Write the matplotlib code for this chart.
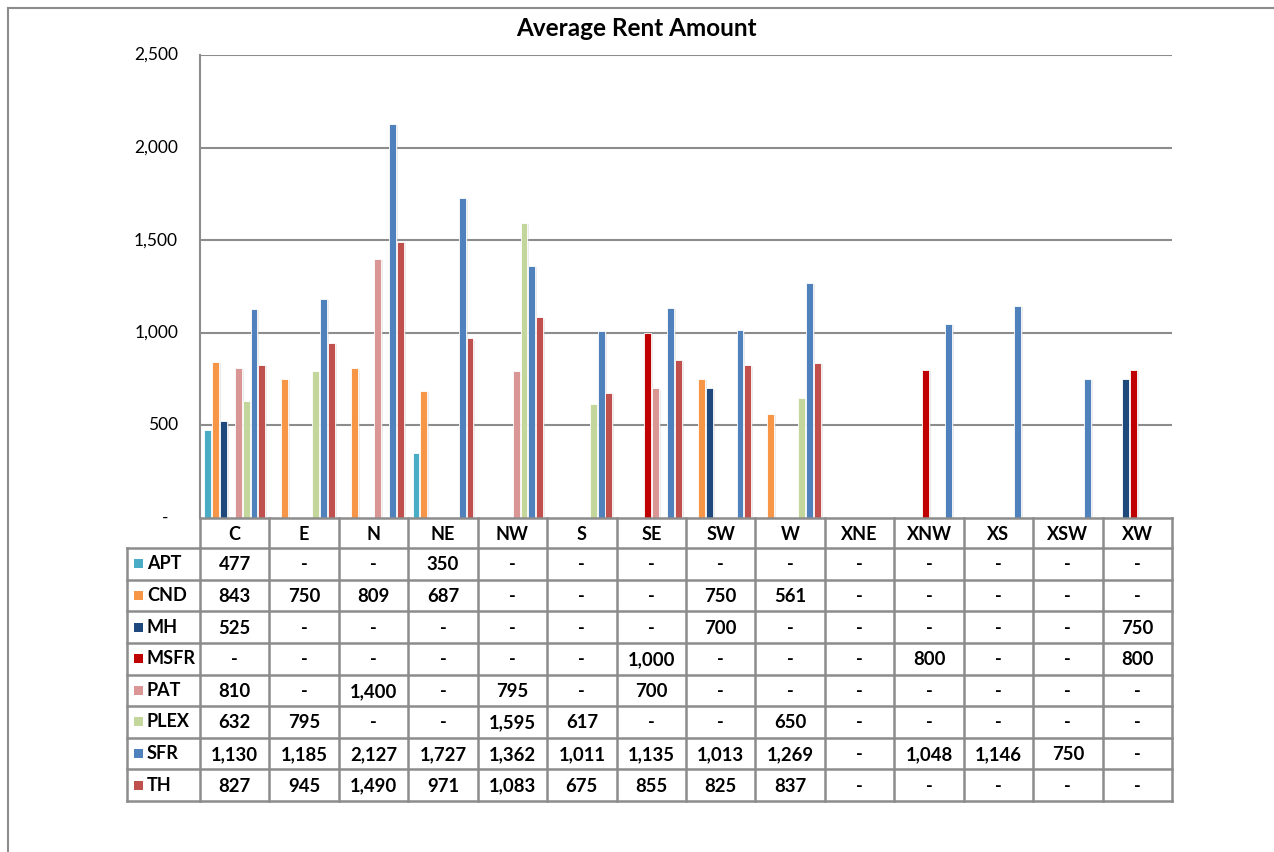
import matplotlib
matplotlib.use("Agg")
import matplotlib.pyplot as plt
import matplotlib.patheffects as pe
import numpy as np

plt.rcParams['font.family'] = ['Lato', 'DejaVu Sans']

categories = ["C", "E", "N", "NE", "NW", "S", "SE", "SW", "W", "XNE", "XNW", "XS", "XSW", "XW"]
series_names = ["APT", "CND", "MH", "MSFR", "PAT", "PLEX", "SFR", "TH"]
N = None
apt = [477, N, N, 350, N, N, N, N, N, N, N, N, N, N]
cnd = [843, 750, 809, 687, N, N, N, 750, 561, N, N, N, N, N]
mh = [525, N, N, N, N, N, N, 700, N, N, N, N, N, 750]
msfr = [N, N, N, N, N, N, 1000, N, N, N, 800, N, N, 800]
pat = [810, N, 1400, N, 795, N, 700, N, N, N, N, N, N, N]
plex = [632, 795, N, N, 1595, 617, N, N, 650, N, N, N, N, N]
sfr = [1130, 1185, 2127, 1727, 1362, 1011, 1135, 1013, 1269, N, 1048, 1146, 750, N]
th = [827, 945, 1490, 971, 1083, 675, 855, 825, 837, N, N, N, N, N]
series = [apt, cnd, mh, msfr, pat, plex, sfr, th]
colors = ["#4BACC6", "#F79646", "#1F497D", "#C00000", "#D99694", "#C3D69B", "#4F81BD", "#C0504D"]
yticks = [0, 500, 1000, 1500, 2000, 2500]
title = "Average Rent Amount"

W, H = 1274, 852
fig = plt.figure(figsize=(W / 100, H / 100), dpi=100)
GRID = "#8C8C8C"

# outer frame lines
fig.add_artist(plt.Line2D([8 / W, 8 / W], [0, 1 - 8 / H], color="#8C8C8C", lw=1.5))
fig.add_artist(plt.Line2D([8 / W, 1], [1 - 8 / H, 1 - 8 / H], color="#8C8C8C", lw=1.5))

# main plot axes
L, R, T, B = 200, 1172, 55, 518
ax = fig.add_axes([L / W, 1 - B / H, (R - L) / W, (B - T) / H])
ax.set_xlim(-0.5, len(categories) - 0.5)
ax.set_ylim(0, 2500)
for s in ["top", "right", "bottom"]:
    ax.spines[s].set_visible(False)
ax.spines["left"].set_color(GRID)
ax.spines["left"].set_linewidth(1.5)
ax.set_xticks([])
ax.set_yticks(yticks)
ax.set_yticklabels([])
ax.tick_params(axis="y", length=0)
for v in yticks[1:]:
    ax.axhline(v, color=GRID, lw=1.5, zorder=0)
for v in yticks:
    lab = "-" if v == 0 else f"{v:,}"
    xoff = -32 if v == 0 else -22
    ax.annotate(lab, xy=(0, v), xycoords=("axes fraction", "data"), xytext=(xoff, 0),
                textcoords="offset pixels", ha="right", va="center", fontsize=12.5)

x = np.arange(len(categories))
slot = 0.111
for j, (vals, c) in enumerate(zip(series, colors)):
    xs = [x[i] + (j - 3.5) * slot for i in range(len(vals)) if vals[i] is not None]
    hs = [vals[i] for i in range(len(vals)) if vals[i] is not None]
    ax.bar(xs, hs, width=0.098, color=c, edgecolor="white", linewidth=0.6, zorder=3,
           path_effects=[pe.SimplePatchShadow(offset=(1.5, -1), shadow_rgbFace="#C8C8C8", alpha=0.35), pe.Normal()])

fig.text(636 / W, 1 - 29 / H, title, ha="center", va="center", fontsize=17.5, fontweight="bold")

# data table
TL, TB = 127, 801
tax = fig.add_axes([TL / W, 1 - TB / H, (R - TL) / W, (TB - B) / H])
tax.set_xlim(TL, R)
tax.set_ylim(TB, B)
tax.axis("off")
colw = (R - L) / len(categories)
hdr_h = 30
row_h = (TB - B - hdr_h) / len(series_names)
lw = 1.8
tax.plot([L, R], [B, B], color=GRID, lw=lw, clip_on=False)
tax.plot([L, R], [B + hdr_h, B + hdr_h], color=GRID, lw=lw, clip_on=False)
tax.plot([TL, L], [B + hdr_h, B + hdr_h], color=GRID, lw=lw, clip_on=False)
for r in range(1, len(series_names) + 1):
    yy = B + hdr_h + r * row_h
    tax.plot([TL, R], [yy, yy], color=GRID, lw=lw, clip_on=False)
tax.plot([TL, TL], [B + hdr_h, TB], color=GRID, lw=lw, clip_on=False)
for k in range(len(categories) + 1):
    xx = L + k * colw
    tax.plot([xx, xx], [B, TB], color=GRID, lw=lw, clip_on=False)
for k, cat in enumerate(categories):
    tax.text(L + (k + 0.5) * colw, B + hdr_h / 2 + 1, cat, ha="center", va="center",
             fontsize=13, fontweight="bold")
for r, (name, vals, c) in enumerate(zip(series_names, series, colors)):
    yc = B + hdr_h + (r + 0.5) * row_h
    tax.add_patch(plt.Rectangle((134, yc - 4.5), 9, 9, color=c, lw=0))
    tax.text(147, yc, name, ha="left", va="center", fontsize=13, fontweight="bold")
    for k, v in enumerate(vals):
        s = "-" if v is None else f"{v:,}"
        tax.text(L + (k + 0.5) * colw, yc + 1, s, ha="center", va="center",
                 fontsize=13.3, fontweight="bold")

fig.savefig("out.png", dpi=100)
